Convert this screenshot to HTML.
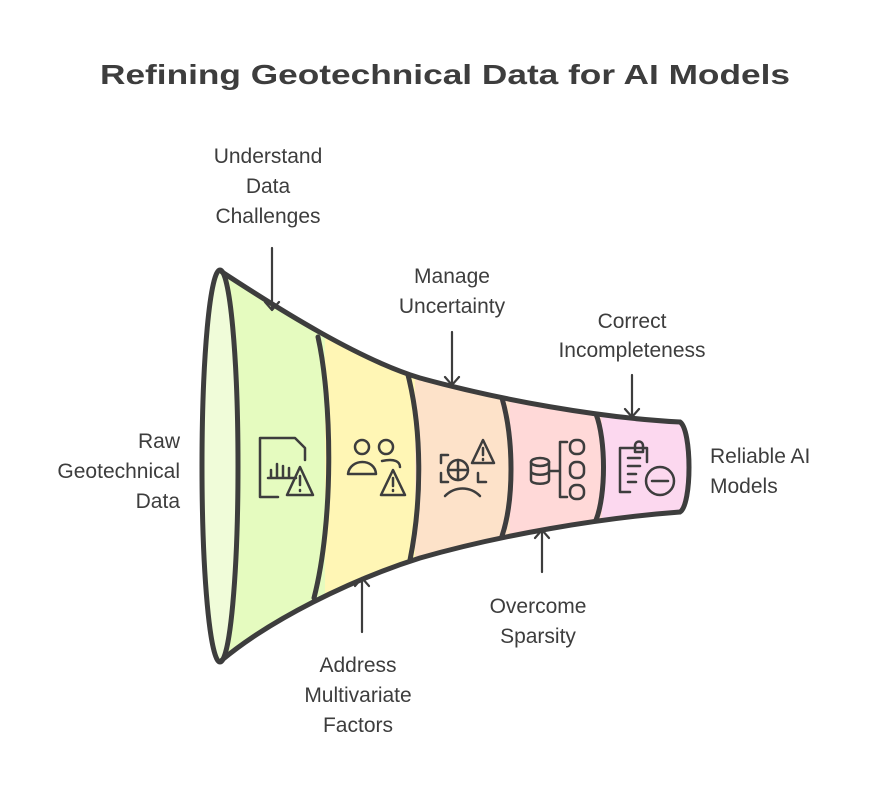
<!DOCTYPE html>
<html><head><meta charset="utf-8"><style>
html,body{margin:0;padding:0;background:#fff;}
svg{display:block}
text{font-family:"Liberation Sans",sans-serif;fill:#3d3d3d;}
</style></head><body>
<svg width="875" height="800" viewBox="0 0 875 800" xmlns="http://www.w3.org/2000/svg">
<defs>
<clipPath id="fc"><path d="M222,272 C280,310 360,360 420,378 C500,400 600,418 680,422 C692,430 692,505 680,512 C600,518 500,535 420,558 C350,580 270,620 222,660 Z"/></clipPath>
</defs>
<text x="445" y="84" text-anchor="middle" font-size="28" font-weight="bold" textLength="690" lengthAdjust="spacingAndGlyphs">Refining Geotechnical Data for AI Models</text>
<g clip-path="url(#fc)">
<rect x="200" y="260" width="125" height="420" fill="#e5fbbf"/>
<rect x="325" y="260" width="90" height="420" fill="#fff6b5"/>
<rect x="415" y="260" width="95" height="420" fill="#fde2c9"/>
<rect x="510" y="260" width="92" height="420" fill="#ffd9d8"/>
<rect x="602" y="260" width="100" height="420" fill="#fcd8ef"/>
</g>
<ellipse cx="220" cy="466" rx="18" ry="196" fill="#f0fcd9" stroke="#3d3d3d" stroke-width="5"/>
<g fill="none" stroke="#3d3d3d" stroke-width="5" stroke-linecap="round">
<path d="M222,272 C280,310 360,360 420,378 C500,400 600,418 680,422 C692,430 692,505 680,512 C600,518 500,535 420,558 C350,580 270,620 222,660"/>
<path d="M318,337 C332,400 334,520 314,598"/>
<path d="M408,375 C422,430 422,500 410,560"/>
<path d="M502,398 C514,440 514,500 502,536"/>
<path d="M596,414 C606,440 606,495 596,520"/>
</g>
<g fill="none" stroke="#3d3d3d" stroke-width="2.5" stroke-linecap="round" stroke-linejoin="round">
<path d="M278,497 H260 V438 H295 L305,448 V460"/><path d="M268,478 H296 M271,478 V470 M277,478 V464 M283,478 V466 M289,478 V468"/>
<path d="M300,467 L287,495 H313 Z"/><path d="M300,476 V485 M300,490 V491"/>
<circle cx="362" cy="447" r="7"/><circle cx="386" cy="447" r="7"/><path d="M348,474 C350,458 375,458 376,474 Z"/><path d="M382,461 C395,458 400,462 400,467"/>
<path d="M393,470 L381,495 H405 Z"/><path d="M393,478 V486 M393,490 V491"/>
<path d="M441,463 V455 H448 M441,473 V482 H448 M478,473 V482 H486"/><circle cx="458" cy="470" r="10"/><path d="M458,460 V480 M448,470 H466"/><path d="M445,496 C455,486 470,486 480,496"/>
<path d="M483,440 L472,463 H494 Z"/><path d="M483,448 V455 M483,459 V460"/>
<ellipse cx="540" cy="462" rx="9" ry="4"/><path d="M531,462 V480 C531,485 549,485 549,480 V462 M531,471 C531,476 549,476 549,471"/>
<path d="M550,471 H560 M567,442 H560 V497 H567"/>
<rect x="570" y="440" width="14" height="14" rx="6"/><rect x="570" y="462" width="14" height="16" rx="6"/><rect x="570" y="485" width="14" height="14" rx="6"/>
<path d="M630,492 H620 V448 H647 V462"/><path d="M635,452 V446 C635,440 643,440 643,446 V452 Z"/><path d="M628,458 H640 M628,466 H640 M628,474 H636 M628,482 H636"/>
<circle cx="660" cy="481" r="14"/><path d="M652,481 H668"/>
</g>
<g fill="none" stroke="#3d3d3d" stroke-width="2.2" stroke-linecap="round" stroke-linejoin="round">
<path d="M272,248 V310 M265,302 L272,310 L279,302"/>
<path d="M452,332 V385 M445,377 L452,385 L459,377"/>
<path d="M632,375 V417 M625,409 L632,417 L639,409"/>
<path d="M362,632 V578 M355,586 L362,578 L369,586"/>
<path d="M542,572 V530 M535,538 L542,530 L549,538"/>
</g>
<g font-size="21">
<text text-anchor="middle" x="268" y="163">Understand</text><text text-anchor="middle" x="268" y="193">Data</text><text text-anchor="middle" x="268" y="223">Challenges</text>
<text text-anchor="middle" x="452" y="283">Manage</text><text text-anchor="middle" x="452" y="313">Uncertainty</text>
<text text-anchor="middle" x="632" y="328">Correct</text><text text-anchor="middle" x="632" y="357">Incompleteness</text>
<text text-anchor="end" x="180" y="448">Raw</text><text text-anchor="end" x="180" y="478">Geotechnical</text><text text-anchor="end" x="180" y="508">Data</text>
<text x="710" y="463">Reliable AI</text><text x="710" y="493">Models</text>
<text text-anchor="middle" x="358" y="672">Address</text><text text-anchor="middle" x="358" y="702">Multivariate</text><text text-anchor="middle" x="358" y="732">Factors</text>
<text text-anchor="middle" x="538" y="613">Overcome</text><text text-anchor="middle" x="538" y="643">Sparsity</text>
</g>
</svg>
</body></html>
